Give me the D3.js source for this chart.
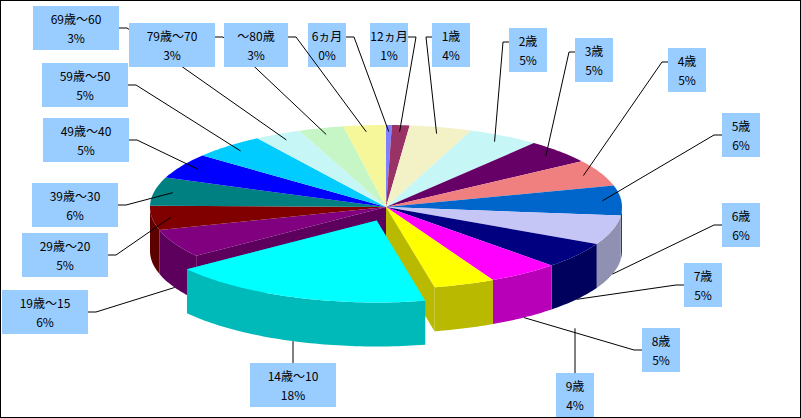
<!DOCTYPE html>
<html><head><meta charset="utf-8">
<script src="https://cdn.jsdelivr.net/npm/d3@7"></script>
<style>body{margin:0;background:#fff}svg{display:block}</style>
</head><body>
<script>
const categories=["6ヵ月","12ヵ月","1歳","2歳","3歳","4歳","5歳","6歳","7歳","8歳","9歳","14歳～10","19歳～15","29歳～20","39歳～30","49歳～40","59歳～50","69歳～60","79歳～70","～80歳"];
const values=[0.4,1.2,4.3,4.9,4.8,5.2,5.9,5.8,5.2,4.9,4.2,18.2,5.6,4.8,5.6,5.0,5.0,3.2,3.1,2.9];
const percentLabels=["0%","1%","4%","5%","5%","5%","6%","6%","5%","5%","4%","18%","6%","5%","6%","5%","5%","3%","3%","3%"];
const colors=["#8080ff","#993366","#f2f2c6","#c6f6f6","#660066","#f08080","#0066cc","#c6c6f6","#000080","#ff00ff","#ffff00","#00ffff","#800080","#800000","#008080","#0000ff","#00ccff","#c6f6f6","#c6f6c6","#f6f69a"];
const labelPos=[[327,45],[389,45],[451,45],[528,50],[594,60],[687,70],[741,135],[741,225],[703,285],[661,350],[575,395],[293,385],[45,312],[65,255],[75,205],[86,140],[85,85],[76,28],[172,45],[256,45]];
const exploded=11;

const W=801,H=418,cx=386,cy=207,rx=236,ry=82,depth=44,ex=0.11;
const svg=d3.select("body").append("svg").attr("width",W).attr("height",H);
svg.append("rect").attr("x",0.5).attr("y",0.5).attr("width",W-1).attr("height",H-1).attr("fill","#fff").attr("stroke","#000");
const arcs=d3.pie().sort(null).value(d=>d)(values);
const sx=d3.scaleLinear().domain([-1,1]).range([cx-rx,cx+rx]);
const sy=d3.scaleLinear().domain([-1,1]).range([cy-ry,cy+ry]);
function pt(a,r,o,dz){return [sx(r*Math.sin(a))+o[0], sy(-r*Math.cos(a))+o[1]+(dz||0)];}
function off(i){if(i!==exploded)return [0,0];const m=(arcs[i].startAngle+arcs[i].endAngle)/2;return [ex*rx*Math.sin(m),-ex*ry*Math.cos(m)*1.6];}
function arcPts(a0,a1,o,dz){const n=Math.max(2,Math.ceil((a1-a0)/0.02));const p=[];for(let k=0;k<=n;k++)p.push(pt(a0+(a1-a0)*k/n,1,o,dz));return p;}
const line=d3.line();
function topPath(i){const a=arcs[i],o=off(i);return line([[cx+o[0],cy+o[1]],...arcPts(a.startAngle,a.endAngle,o)])+"Z";}
function wallPath(i){const a=arcs[i],o=off(i);const a0=Math.max(a.startAngle,Math.PI/2),a1=Math.min(a.endAngle,1.5*Math.PI);if(a1<=a0)return null;
 const t=arcPts(a0,a1,o),b=arcPts(a0,a1,o,depth).reverse();return line([...t,...b])+"Z";}
function radial(a,o){const c=[cx+o[0],cy+o[1]],r=pt(a,1,o);return line([c,r,[r[0],r[1]+depth],[c[0],c[1]+depth]])+"Z";}
function dark(c){return d3.color(c).darker(0.9).formatHex();}
const g=svg.append("g").attr("stroke","none");
arcs.forEach((a,i)=>{if(i===exploded)return;const p=wallPath(i);if(p)g.append("path").attr("d",p).attr("fill",dark(colors[i]));});
arcs.forEach((a,i)=>{if(i===exploded)return;g.append("path").attr("d",topPath(i)).attr("fill",colors[i]);});
g.append("path").attr("d",radial(arcs[exploded].startAngle,[0,0])).attr("fill",dark(colors[exploded-1]));
g.append("path").attr("d",radial(arcs[exploded].endAngle,[0,0])).attr("fill",dark(colors[exploded+1]));
const eo=off(exploded);
g.append("path").attr("d",radial(arcs[exploded].endAngle,eo)).attr("fill",dark(colors[exploded]));
g.append("path").attr("d",wallPath(exploded)).attr("fill",dark(colors[exploded]));
g.append("path").attr("d",topPath(exploded)).attr("fill",colors[exploded]);

const lg=svg.append("g");
arcs.forEach((a,i)=>{
 const m=(a.startAngle+a.endAngle)/2,o=off(i);
 const front=Math.cos(m)<-0.2;
 let an=front?pt(m,1,o,depth):pt(m,0.92,o);
 const [lx,ly]=labelPos[i];
 const w=i>=11?(categories[i].length*11+20):38, h=44;
 let pts;
 if(ly>370){an=[lx,an[1]];pts=[[lx,ly-h/2],an];}
 else if(ly<100&&lx>150){
   if(lx<an[0]){pts=[[lx+w/2,ly-8],[lx+w/2+8,ly-8],an];}
   else{pts=[[lx-w/2,ly-8],[lx-w/2-6,ly-8],an];}
 }
 else if(lx<an[0]){pts=[[lx+w/2,ly],[lx+w/2+8,ly],an];}
 else{pts=[[lx-w/2,ly],[lx-w/2-8,ly],an];}
 lg.append("polyline").attr("points",pts.join(" ")).attr("fill","none").attr("stroke","#000");
 lg.append("rect").attr("x",lx-w/2).attr("y",ly-h/2).attr("width",w).attr("height",h).attr("fill","#99ccff");
 const t=lg.append("text").attr("text-anchor","middle").attr("font-family","'Noto Sans CJK JP',sans-serif").attr("font-size",12).attr("fill","#000");
 t.append("tspan").attr("x",lx).attr("y",ly-4).text(categories[i]);
 t.append("tspan").attr("x",lx).attr("y",ly+15).text(percentLabels[i]);
});
</script>
</body></html>
